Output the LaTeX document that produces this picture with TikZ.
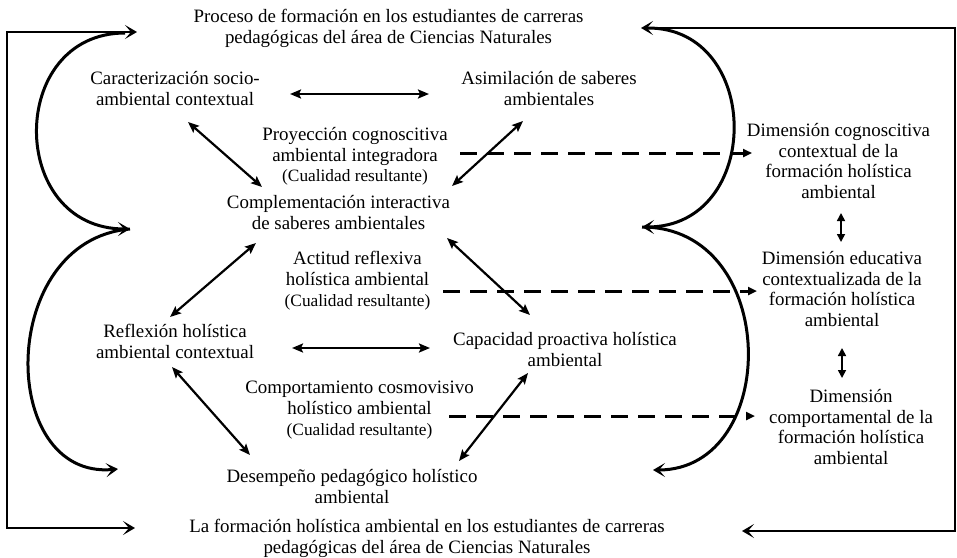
\documentclass[tikz,border=0pt]{standalone}
\usepackage{fontspec}
\setmainfont{Liberation Serif}
\usetikzlibrary{arrows.meta}
\usetikzlibrary{calc}
\newcommand{\resfont}{\fontsize{17.3}{19}\selectfont}

\begin{document}
\begin{tikzpicture}[x=1pt,y=-1pt,
  txt/.style={anchor=north,align=center,inner sep=0pt,font=\fontsize{18.9}{20.8}\selectfont},
  twoway/.style={{Stealth[length=11pt,width=9pt,inset=2pt]}-{Stealth[length=11pt,width=9pt,inset=2pt]},line width=2.2pt},
  dimlink/.style={{Triangle[length=8pt,width=8pt]}-{Triangle[length=8pt,width=8pt]},line width=1.6pt},
  todim/.style={-{Triangle[length=9pt,width=8pt]},line width=3pt,dash pattern=on 17pt off 10pt},
  outer/.style={{Stealth[length=12pt,width=14pt,inset=6pt]}-{Stealth[length=12pt,width=14pt,inset=6pt]},line width=2.6pt},
  swing/.style={-{Stealth[length=12pt,width=14pt,inset=6pt]},line width=3pt}]
\useasboundingbox (0,0) rectangle (957,557);

\node[txt] (proc) at (388.5,9) {Proceso de formación en los estudiantes de carreras\\pedagógicas del área de Ciencias Naturales};
\node[txt] (form) at (427,519) {La formación holística ambiental en los estudiantes de carreras\\pedagógicas del área de Ciencias Naturales};

\node[txt] (caract) at (175,71) {Caracterización socio-\\ambiental contextual};
\node[txt] (asim) at (549,71) {Asimilación de saberes\\ambientales};
\node[txt] (proy) at (355,127) {Proyección cognoscitiva\\ambiental integradora\\{\resfont (Cualidad resultante)}};
\node[txt] (compl) at (338.5,195) {Complementación interactiva\\de saberes ambientales};
\node[txt] (actit) at (357.5,251) {Actitud reflexiva\\holística ambiental\\{\resfont (Cualidad resultante)}};
\node[txt] (refl) at (175,324) {Reflexión holística\\ambiental contextual};
\node[txt] (capac) at (565,332) {Capacidad proactiva holística\\ambiental};
\node[txt] (comport) at (359.5,381) {Comportamiento cosmovisivo\\holístico ambiental\\{\resfont (Cualidad resultante)}};
\node[txt] (desemp) at (352,469) {Desempeño pedagógico holístico\\ambiental};

\node[txt] (dimA) at (838.5,123) {Dimensión cognoscitiva\\contextual de la\\formación holística\\ambiental};
\node[txt] (dimB) at (842,251) {Dimensión educativa\\contextualizada de la\\formación holística\\ambiental};
\node[txt] (dimC) at (851,389) {Dimensión\\comportamental de la\\formación holística\\ambiental};

\draw[twoway] ($(caract.north)+(115,23)$) -- ($(asim.north)+(-120,23)$);
\draw[twoway] ($(caract.north)+(13,51)$) -- ($(compl.north)+(-76.5,-8)$);
\draw[twoway] ($(asim.north)+(-26,50)$) -- ($(compl.north)+(113.5,-9)$);
\draw[twoway] ($(compl.north)+(-82.5,48)$) -- ($(refl.north)+(-5,-7)$);
\draw[twoway] ($(compl.north)+(108.5,43)$) -- ($(capac.north)+(-35,-17)$);
\draw[twoway] ($(refl.north)+(117,24)$) -- ($(capac.north)+(-135,16)$);
\draw[twoway] ($(refl.north)+(-3,43)$) -- ($(desemp.north)+(-102,-14)$);
\draw[twoway] ($(capac.north)+(-37,41)$) -- ($(desemp.north)+(107,-8)$);

\draw[dimlink] ($(dimA.north)+(2.5,90)$) -- ($(dimB.north)+(-1,-9)$);
\draw[dimlink] ($(dimB.north)+(0,97)$) -- ($(dimC.north)+(-9,-11)$);

\draw[todim] ($(proy.north)+(105,26)$) -- ($(dimA.north)+(-86.5,30)$);
\draw[todim] ($(actit.north)+(85.5,40)$) -- ($(dimB.north)+(-85,40)$);
\draw[todim] ($(comport.north)+(89.5,35)$) -- ($(dimC.north)+(-96,27)$);

\draw[outer] ($(proc.north)+(-251.5,23)$) -- ++(-130,0) |- ($(form.north)+(-292,9)$);
\draw[outer] ($(proc.north)+(252.5,19)$) -- ++(314,0) |- ($(form.north)+(315,12)$);

\draw[swing] ($(proc.north)+(-263.5,24)$) .. controls +(-118,0) and +(-123,0) .. ($(compl.north)+(-208.5,34)$);
\draw[swing] ($(compl.north)+(-208.5,34)$) .. controls +(-133,11) and +(-121,11) .. ($(desemp.north)+(-234,0)$);
\draw[swing] ($(proc.north)+(259.5,19)$) .. controls +(115,0) and +(121,0) .. ($(compl.north)+(303.5,32)$);
\draw[swing] ($(compl.north)+(303.5,32)$) .. controls +(139,0) and +(128,0) .. ($(desemp.north)+(301,1)$);

\end{tikzpicture}
\end{document}
